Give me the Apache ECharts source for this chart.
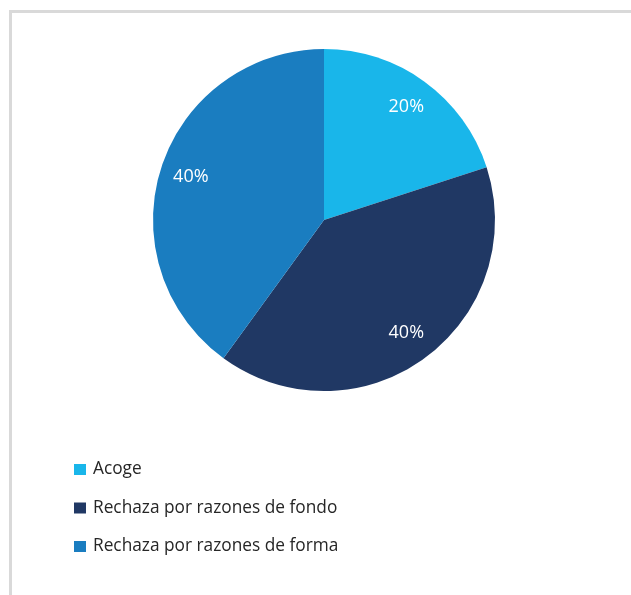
<!DOCTYPE html>
<html>
<head>
<meta charset="utf-8">
<script src="https://cdn.jsdelivr.net/npm/echarts@6/dist/echarts.min.js"></script>
<style>
  html, body { margin: 0; padding: 0; background: #fff; }
  #frame { position: absolute; left: 9px; top: 10px; width: 640px; height: 600px;
           border-left: 3px solid #d9d9d9; border-top: 3px solid #d9d9d9; }
  #main { position: absolute; left: 0; top: 0; width: 631px; height: 595px; }
</style>
</head>
<body>
<div id="frame"></div>
<div id="main"></div>
<script>
// datos del gráfico
var categorias = ['Acoge', 'Rechaza por razones de fondo', 'Rechaza por razones de forma'];
var valores = [20, 40, 40];
var colores = ['#19b6ea', '#203864', '#1a7dc0'];

var myChart = echarts.init(document.getElementById('main'));

var datos = [];
for (var i = 0; i < categorias.length; i++) {
    datos.push({ name: categorias[i], value: valores[i], itemStyle: { color: colores[i] } });
}

var option = {
    animation: false,
    legend: {
        orient: 'vertical',
        left: 69,
        top: 454,
        icon: 'rect',
        itemWidth: 12,
        itemHeight: 11,
        itemGap: 17.5,
        textStyle: { fontFamily: 'Open Sans', fontSize: 17.3, lineHeight: 21, color: '#262626', padding: [0, 0, 0, 2] },
        data: categorias
    },
    series: [{
        // el pastel
        type: 'pie',
        center: [324, 220],
        radius: 171,
        startAngle: 90,
        clockwise: true,
        label: { show: false },
        labelLine: { show: false },
        emphasis: { disabled: true },
        data: datos
    }, {
        // anillo transparente solo para poner etiquetas al 80% del radio
        type: 'pie',
        center: [324, 220],
        radius: [103, 171],
        startAngle: 90,
        clockwise: true,
        silent: true,
        itemStyle: { color: 'rgba(0,0,0,0)' },
        label: {
            show: true,
            position: 'inside',
            formatter: '{c}%',
            color: '#fff',
            fontFamily: 'Open Sans',
            fontSize: 18
        },
        labelLine: { show: false },
        data: categorias.map(function (c, i) {
            return { name: c, value: valores[i], itemStyle: { color: 'rgba(0,0,0,0)' } };
        })
    }]
};

myChart.setOption(option);
</script>
</body>
</html>
